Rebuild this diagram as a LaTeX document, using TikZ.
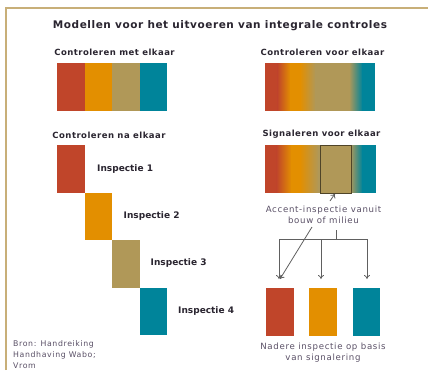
\documentclass[tikz,border=0pt]{standalone}
\usepackage{fontspec}
\setmainfont{DejaVu Sans}
\usetikzlibrary{arrows.meta}
\definecolor{cred}{HTML}{C0452A}
\definecolor{corange}{HTML}{E38F00}
\definecolor{ctan}{HTML}{B09858}
\definecolor{cteal}{HTML}{00849A}
\definecolor{cborder}{HTML}{C8AF78}
\definecolor{ctitle}{HTML}{2A2530}
\definecolor{cgraytxt}{HTML}{5A5066}
\definecolor{cline}{HTML}{606060}
\begin{document}
\begin{tikzpicture}[x=1pt,y=-1pt,
  blk/.style={rectangle,inner sep=0pt,minimum width=27.5pt,minimum height=47.5pt,anchor=north west,draw=none},
  hd/.style={font=\bfseries\fontsize{8.5}{9}\selectfont\addfontfeatures{LetterSpace=5.5},text=ctitle,inner sep=0pt},
  insp/.style={font=\bfseries\fontsize{9}{10}\selectfont,text=ctitle,inner sep=0pt,anchor=west},
  gtxt/.style={font=\fontsize{8.6}{11.2}\selectfont\addfontfeatures{LetterSpace=8},text=cgraytxt,inner sep=0pt,align=center},
  arr/.style={draw=cline,line width=0.8pt,-{To[length=4pt,width=6pt]}},
  ln/.style={draw=cline,line width=0.8pt}]
\useasboundingbox (0,0) rectangle (428,370);
\fill[white] (0,0) rectangle (428,370);
% border
\draw[cborder,line width=2pt] (6,370) -- (6,8) -- (428,8);
% title
\node[font=\bfseries\fontsize{10.5}{12}\selectfont\addfontfeatures{LetterSpace=5.3},text=ctitle,inner sep=0pt] (title) at (220,25.5) {Modellen voor het uitvoeren van integrale controles};
% Controleren met elkaar
\node[hd] (h1) at (114.5,52) {Controleren met elkaar};
\node[blk,fill=cred] (m1) at (57,63) {};
\node[blk,fill=corange] (m2) at (84.5,63) {};
\node[blk,fill=ctan] (m3) at (112,63) {};
\node[blk,fill=cteal] (m4) at (139.5,63) {};
% Controleren voor elkaar
\node[hd] (h2) at (322.5,52) {Controleren voor elkaar};
\begin{scope}
\fill[corange!50!ctan] (265,63) rectangle (375,110.5);
\fill[cred] (265,63) rectangle (278,110.5);
\shade[left color=cred,right color=corange] (277.5,62.5) rectangle (290.5,111);
\fill[corange] (290,63) rectangle (300.5,110.5);
\shade[left color=corange,right color=ctan] (300,62.5) rectangle (315.5,111);
\fill[ctan] (315,63) rectangle (349.5,110.5);
\shade[left color=ctan,right color=cteal] (349,62.5) rectangle (362.5,111);
\fill[cteal] (362,63) rectangle (375,110.5);
\fill[white] (265,110.5) rectangle (376,112);
\fill[white] (265,61) rectangle (376,63);
\end{scope}
\node[inner sep=0pt,minimum width=110pt,minimum height=47.5pt,anchor=north west] (vbar) at (265,63) {};
% Controleren na elkaar
\node[hd] (h3) at (109,135) {Controleren na elkaar};
\node[blk,fill=cred] (n1) at (57,145) {};
\node[blk,fill=corange] (n2) at (84.5,192.5) {};
\node[blk,fill=ctan] (n3) at (112,240) {};
\node[blk,fill=cteal] (n4) at (139.5,287.5) {};
\node[insp] (i1) at (97,169.5) {Inspectie 1};
\node[insp] (i2) at (123.5,216.5) {Inspectie 2};
\node[insp] (i3) at (150.5,263) {Inspectie 3};
\node[insp] (i4) at (178,311) {Inspectie 4};
% source
\node[font=\fontsize{7.8}{11}\selectfont\addfontfeatures{LetterSpace=8},text=cgraytxt,inner sep=0pt,anchor=north west,align=left] (bron) at (13,340.5) {Bron: Handreiking\\Handhaving Wabo;\\Vrom};
% Signaleren voor elkaar
\node[hd] (h4) at (321.5,134) {Signaleren voor elkaar};
\begin{scope}
\fill[corange!50!ctan] (265,145) rectangle (376,193);
\fill[cred] (265,145) rectangle (277,193);
\shade[left color=cred,right color=corange] (276.5,144.5) rectangle (291.5,193.5);
\fill[corange] (291,145) rectangle (300.5,193);
\shade[left color=corange,right color=ctan] (300,144.5) rectangle (318.5,193.5);
\fill[ctan] (318,145) rectangle (350.5,193);
\shade[left color=ctan,right color=cteal] (350,144.5) rectangle (362.5,193.5);
\fill[cteal] (362,145) rectangle (376,193);
\fill[white] (265,193) rectangle (377,194.5);
\fill[white] (265,143) rectangle (377,145);
\end{scope}
\node[draw=black!55!ctan,line width=0.8pt,fill=ctan,inner sep=0pt,minimum width=31pt,minimum height=48pt,anchor=north west] (hl) at (320,145) {};
\node[gtxt] (accent) at (323.5,215) {Accent-inspectie vanuit\\bouw of milieu};
\coordinate (astart) at (330,201);
\coordinate (aend) at ([xshift=-1pt]hl.south);
\draw[arr] (astart) -- (aend);
% bracket
\coordinate (stub) at (336,230);
\coordinate (jn) at (336,239);
\coordinate (bl) at (279,239);
\coordinate (bm) at (321,239);
\coordinate (br) at (367,239);
\coordinate (dstart) at (312,227);
\coordinate (tl) at (279,279);
\coordinate (tm) at (321,279);
\coordinate (tr) at (367,279);
\coordinate (td) at (280,279);
\draw[ln] (stub) -- (jn);
\draw[ln] (bl) -- (br);
% bottom boxes
\node[blk,fill=cred] (b1) at (266,288) {};
\node[blk,fill=corange] (b2) at (309,288) {};
\node[blk,fill=cteal] (b3) at (352.5,288) {};
\draw[arr] (bl) -- (tl);
\draw[arr] (bm) -- (tm);
\draw[arr] (br) -- (tr);
\draw[arr] (dstart) -- (td);
\node[gtxt] (nadere) at (323,353) {Nadere inspectie op basis\\van signalering};
\end{tikzpicture}
\end{document}
